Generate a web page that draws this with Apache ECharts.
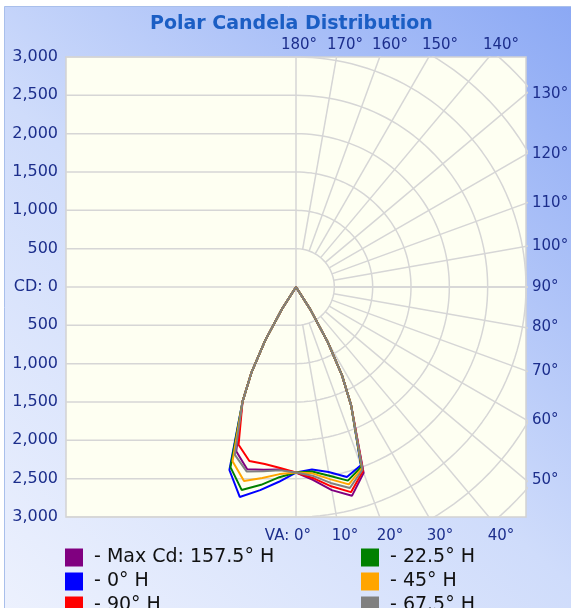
<!DOCTYPE html>
<html>
<head>
<meta charset="utf-8">
<script src="https://cdn.jsdelivr.net/npm/echarts@6/dist/echarts.min.js"></script>
<style>
html,body{margin:0;padding:0;background:#fff;}
#chart{width:571px;height:608px;}
</style>
</head>
<body>
<div id="chart"></div>
<script>
// ---- data ----
const verticalAngles = [0,5,10,15,20,25,27.5,30,32.5,35,40,45,50,55,60,65,70,75,80,85,90];
const seriesNames = ['Max Cd: 157.5° H','0° H','90° H','22.5° H','45° H','67.5° H'];
const seriesColors = ['#800080','#0000ff','#ff0000','#008000','#ffa500','#808080'];
// candela, right half (plane H) and left half (plane H+180)
const maxRight    = [2420,2525,2690,2820,2580,1700,1300,820,350,0,0,0,0,0,0,0,0,0,0,0,0];
const maxLeft     = [2420,2390,2420,2460,2280,1650,1260,800,340,0,0,0,0,0,0,0,0,0,0,0,0];
const h0Right     = [2420,2390,2450,2565,2475,1700,1300,820,350,0,0,0,0,0,0,0,0,0,0,0,0];
const h0Left      = [2420,2550,2690,2835,2540,1650,1260,800,340,0,0,0,0,0,0,0,0,0,0,0,0];
const h90Right    = [2420,2500,2640,2770,2555,1700,1300,820,350,0,0,0,0,0,0,0,0,0,0,0,0];
const h90Left     = [2420,2370,2345,2350,2190,1650,1260,800,340,0,0,0,0,0,0,0,0,0,0,0,0];
const h22Right    = [2420,2415,2500,2615,2495,1700,1300,820,350,0,0,0,0,0,0,0,0,0,0,0,0];
const h22Left     = [2420,2490,2620,2740,2500,1650,1260,800,340,0,0,0,0,0,0,0,0,0,0,0,0];
const h45Right    = [2420,2440,2545,2665,2515,1700,1300,820,350,0,0,0,0,0,0,0,0,0,0,0,0];
const h45Left     = [2420,2450,2530,2620,2420,1650,1260,800,340,0,0,0,0,0,0,0,0,0,0,0,0];
const h67Right    = [2420,2470,2595,2715,2535,1700,1300,820,350,0,0,0,0,0,0,0,0,0,0,0,0];
const h67Left     = [2420,2400,2440,2490,2330,1650,1260,800,340,0,0,0,0,0,0,0,0,0,0,0,0];
const rightTicks  = [130,120,110,100,90,80,70,60,50];
const topTicks    = [180,170,160,150,140];
const bottomTicks = [0,10,20,30,40];
const cdTicks = [-3000,-2500,-2000,-1500,-1000,-500,0,500,1000,1500,2000,2500,3000];

// ---- layout ----
const L = 66, T = 57, S = 460, CX = L + S/2, CY = T + S/2, R = S/2;
const MAXCD = 3000;
const gridColor = '#d6d6d6';
const labelColor = '#1c2e8c';
const FONT = 'DejaVu Sans';

const planes = [
  [maxRight, maxLeft],[h0Right, h0Left],[h90Right, h90Left],
  [h22Right, h22Left],[h45Right, h45Left],[h67Right, h67Left]
];

function polarPath(right, left){
  const pts = [];
  for (let i = verticalAngles.length - 1; i >= 0; i--) pts.push([right[i], verticalAngles[i]]);
  for (let i = 0; i < verticalAngles.length; i++) pts.push([left[i], 360 - verticalAngles[i]]);
  return pts;
}

// grid line series (cartesian, clipped to plot square)
const gridSeries = [];
function gl(data){
  gridSeries.push({type:'line', xAxisIndex:0, yAxisIndex:0, data, symbol:'none', silent:true,
    clip:true, animation:false, z:1, lineStyle:{color:gridColor, width:1.5}});
}
const rad = d => d*Math.PI/180;
cdTicks.forEach(y => gl([[-MAXCD, y],[0, y]]));
gl([[0,-MAXCD],[0,MAXCD]]);
gl([[0,0],[6000,0]]);
for (let r = 500; r <= 4500; r += 500) {
  const d = [];
  for (let t = 0; t <= 180; t += 2) d.push([r*Math.sin(rad(t)), -r*Math.cos(rad(t))]);
  gl(d);
}
for (let a = 10; a <= 170; a += 10) {
  gl([[500*Math.sin(rad(a)), -500*Math.cos(rad(a))],[6000*Math.sin(rad(a)), -6000*Math.cos(rad(a))]]);
}

const dataSeries = seriesNames.map((n, i) => ({
  name: n, type:'line', coordinateSystem:'polar', polarIndex:0,
  data: polarPath(planes[i][0], planes[i][1]),
  symbol:'none', smooth:false, z:5, animation:false,
  itemStyle:{color:seriesColors[i]},
  lineStyle:{color:seriesColors[i], width:2}
}));

// graphic labels
const graphics = [];
graphics.push({type:'rect', z:-10, silent:true, shape:{x:4.5, y:6.5, width:600, height:700},
  style:{fill:new echarts.graphic.LinearGradient(0,1,1,0,[
    {offset:0, color:'#f2f5fe'},{offset:0.5, color:'#cfdcfb'},{offset:1, color:'#88a6f4'}]),
    stroke:'#a9bfeb', lineWidth:1}});
const degFont = '15px "'+FONT+'"';
rightTicks.forEach(a => {
  graphics.push({type:'text', z:10, x:L+S+6, y:CY - R*Math.tan(rad(a-90)),
    style:{text:a+'°', fill:labelColor, font:degFont, verticalAlign:'middle', align:'left'}});
});
const hPos = [299, 345, 390, 440, 501];
topTicks.forEach((a, i) => {
  graphics.push({type:'text', z:10, x:hPos[i], y:T-12,
    style:{text:a+'°', fill:labelColor, font:degFont, verticalAlign:'middle', align:'center'}});
});
bottomTicks.forEach((a, i) => {
  graphics.push({type:'text', z:10, x: i===0 ? hPos[0]+12 : hPos[i], y:T+S+19,
    style:{text:(i===0?'VA: ':'')+a+'°', fill:labelColor, font:degFont, verticalAlign:'middle', align: i===0?'right':'center'}});
});

// legends: two columns, three rows
const legendCols = [60, 356];
const legendRows = [543, 567, 591];
const legendOrder = [[0,0],[0,1],[0,2],[1,0],[1,1],[1,2]]; // [col,row] for each series
const legends = seriesNames.map((n, i) => ({
  data:[n], left:legendCols[legendOrder[i][0]], top:legendRows[legendOrder[i][1]],
  itemWidth:18, itemHeight:18, icon:'rect', formatter:'- {name}', selectedMode:false,
  textStyle:{fontFamily:FONT, fontSize:19, color:'#111', padding:[0,0,0,6]}
}));

const chart = echarts.init(document.getElementById('chart'), null, {renderer:'canvas'});
chart.setOption({
  animation:false,
  backgroundColor:'#ffffff',
  title:{text:'Polar Candela Distribution', left:145, top:10,
    textStyle:{fontFamily:FONT, fontSize:19, fontWeight:'bold', color:'#1b5ec4'}},
  grid:{left:L, top:T, width:S, height:S, show:true, backgroundColor:'#fefff2', borderColor:'#d2d2d2', borderWidth:1.5},
  xAxis:{type:'value', min:-MAXCD, max:MAXCD, show:false},
  yAxis:{type:'value', min:-MAXCD, max:MAXCD, interval:500,
    axisLine:{show:false}, axisTick:{show:false}, splitLine:{show:false},
    axisLabel:{margin:8, color:labelColor, fontFamily:FONT, fontSize:16,
      formatter: v => v === 0 ? 'CD: 0' : Math.abs(v).toLocaleString('en-US')}},
  polar:{center:[CX, CY], radius:R},
  angleAxis:{type:'value', min:0, max:360, startAngle:-90, clockwise:false, show:false},
  radiusAxis:{type:'value', min:0, max:MAXCD, show:false},
  legend:legends,
  graphic:graphics,
  series: gridSeries.concat(dataSeries)
});
</script>
</body>
</html>
